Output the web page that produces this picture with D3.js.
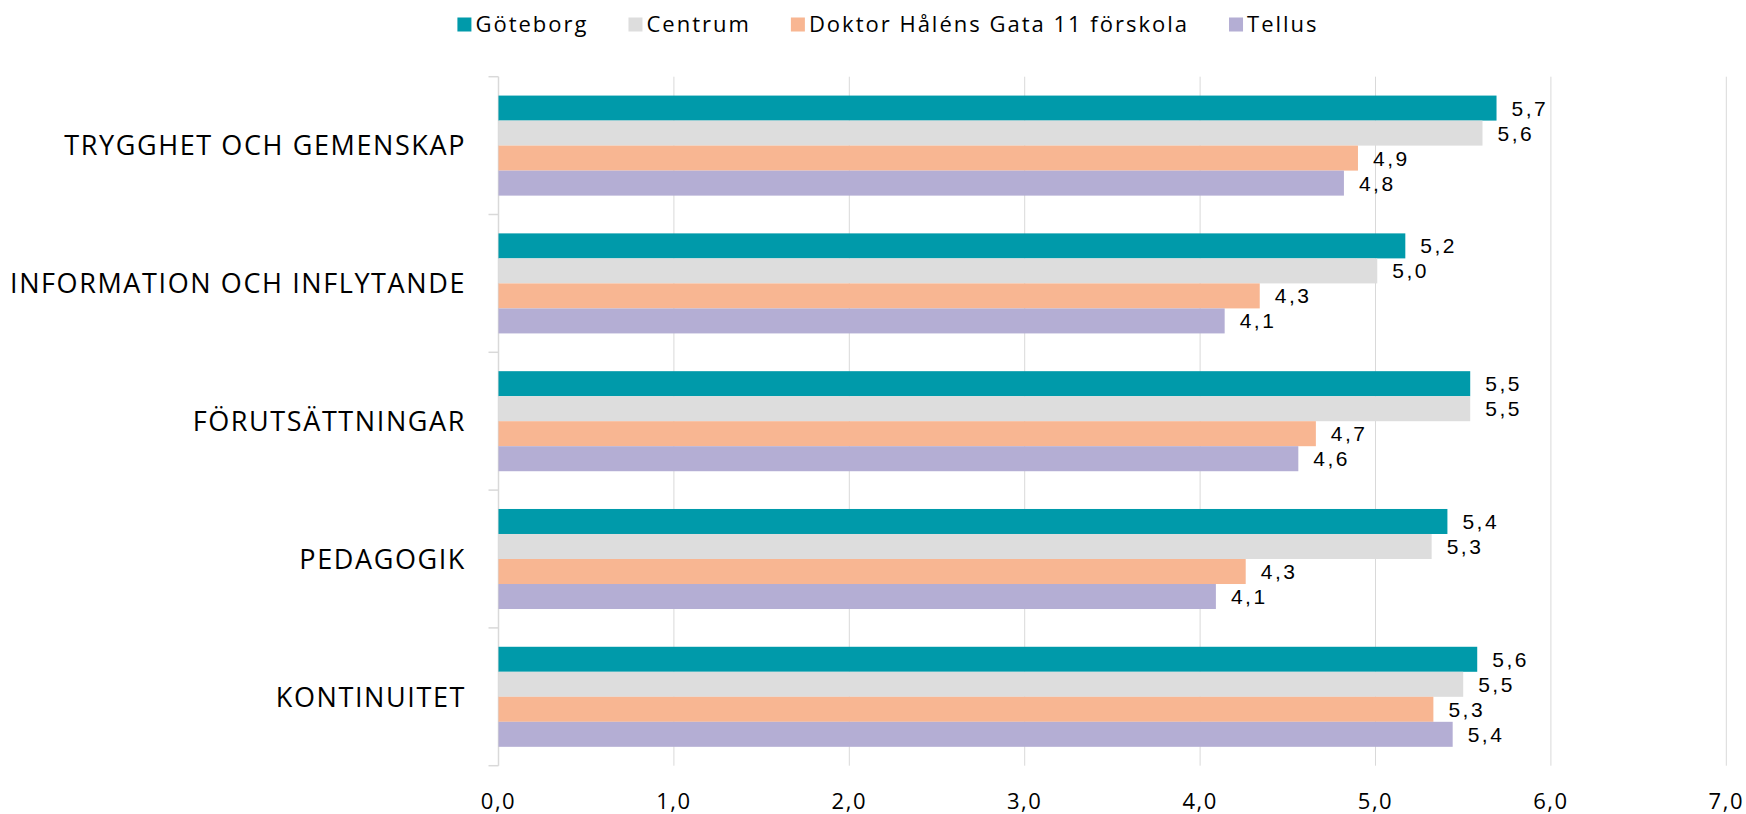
<!DOCTYPE html>
<html>
<head>
<meta charset="utf-8">
<script src="https://cdn.jsdelivr.net/npm/d3@7"></script>
<style>
  html, body { margin: 0; padding: 0; background: #fff; }
  svg { display: block; }
</style>
</head>
<body>
<div id="chart"></div>
<script>
// categories, top to bottom
const categories = ['TRYGGHET OCH GEMENSKAP', 'INFORMATION OCH INFLYTANDE', 'FÖRUTSÄTTNINGAR', 'PEDAGOGIK', 'KONTINUITET']
const seriesNames = ['Göteborg', 'Centrum', 'Doktor Håléns Gata 11 förskola', 'Tellus']
const seriesColors = ['#009aaa', '#dddddd', '#f8b692', '#b4aed4']

// values per series, same order as categories
const goteborg = [5.69, 5.17, 5.54, 5.41, 5.58]
const centrum = [5.61, 5.01, 5.54, 5.32, 5.50]
const doktor = [4.90, 4.34, 4.66, 4.26, 5.33]
const tellus = [4.82, 4.14, 4.56, 4.09, 5.44]

const xTicks = [0, 1, 2, 3, 4, 5, 6, 7]

const width = 1746
const height = 814
const margin = { top: 76.7, right: 20, bottom: 48, left: 498.5 }
const gridColor = '#d9d9d9'

let allSeries = [goteborg, centrum, doktor, tellus]

let svg = d3.select('#chart').append('svg')
  .attr('width', width)
  .attr('height', height)

let x = d3.scaleLinear()
  .domain([0, 7])
  .range([margin.left, 1726.3])

let y = d3.scaleBand()
  .domain(categories)
  .range([margin.top, 765.7])
  .paddingInner(0.274)
  .paddingOuter(0.137)

let ySub = d3.scaleBand()
  .domain(d3.range(seriesNames.length))
  .range([0, y.bandwidth()])

let fmt = v => d3.format('.1f')(v).replace('.', ',')

// grid lines
svg.append('g')
  .selectAll('line')
  .data(xTicks.slice(1))
  .enter().append('line')
  .attr('x1', d => x(d))
  .attr('x2', d => x(d))
  .attr('y1', y.range()[0])
  .attr('y2', y.range()[1])
  .style('stroke', gridColor)
  .style('stroke-width', 1)

// category axis line + outside ticks at band boundaries
let step = y.step()
let boundaries = d3.range(categories.length + 1).map(i => y.range()[0] + i * step)
svg.append('line')
  .attr('x1', x(0)).attr('x2', x(0))
  .attr('y1', y.range()[0]).attr('y2', y.range()[1])
  .style('stroke', gridColor)
  .style('stroke-width', 1.5)
svg.append('g')
  .selectAll('line')
  .data(boundaries)
  .enter().append('line')
  .attr('x1', x(0) - 10)
  .attr('x2', x(0))
  .attr('y1', d => d)
  .attr('y2', d => d)
  .style('stroke', gridColor)
  .style('stroke-width', 1.5)

// category labels
svg.append('g')
  .selectAll('text')
  .data(categories)
  .enter().append('text')
  .attr('x', 466)
  .attr('y', d => y(d) + y.bandwidth() / 2)
  .attr('dy', '0.36em')
  .attr('text-anchor', 'end')
  .style('font-family', '"Open Sans", sans-serif')
  .style('font-size', '27px')
  .style('letter-spacing', '1.6px')
  .style('fill', '#000')
  .text(d => d)

// x tick labels
svg.append('g')
  .selectAll('text')
  .data(xTicks)
  .enter().append('text')
  .attr('x', d => x(d))
  .attr('y', 809)
  .attr('text-anchor', 'middle')
  .style('font-family', '"Open Sans", sans-serif')
  .style('font-size', '22px')
  .style('letter-spacing', '1.5px')
  .style('fill', '#000')
  .text(d => fmt(d))

// bars
let groups = svg.append('g')
  .selectAll('g')
  .data(categories)
  .enter().append('g')
  .attr('transform', d => 'translate(0,' + y(d) + ')')

groups.selectAll('rect')
  .data((d, ci) => allSeries.map((s, si) => ({ si: si, v: s[ci] })))
  .enter().append('rect')
  .attr('x', x(0))
  .attr('y', d => ySub(d.si))
  .attr('width', d => x(d.v) - x(0))
  .attr('height', ySub.bandwidth())
  .style('fill', d => seriesColors[d.si])

groups.selectAll('text')
  .data((d, ci) => allSeries.map((s, si) => ({ si: si, v: s[ci] })))
  .enter().append('text')
  .attr('x', d => x(d.v) + 15)
  .attr('y', d => ySub(d.si) + ySub.bandwidth() / 2)
  .attr('dy', '0.36em')
  .style('font-family', '"Liberation Sans", Arial, sans-serif')
  .style('font-size', '21px')
  .style('letter-spacing', '2.5px')
  .style('fill', '#000')
  .text(d => fmt(d.v))

// legend
let legend = svg.append('g')
let lx = 0
seriesNames.forEach((name, i) => {
  let item = legend.append('g').attr('transform', 'translate(' + lx + ',0)')
  item.append('rect')
    .attr('x', 0).attr('y', -7)
    .attr('width', 14).attr('height', 14)
    .style('fill', seriesColors[i])
  let t = item.append('text')
    .attr('x', 18)
    .attr('y', 0)
    .attr('dy', '0.36em')
    .style('font-family', '"Open Sans", sans-serif')
    .style('font-size', '22px')
    .style('letter-spacing', '2px')
    .style('fill', '#000')
    .text(name)
  lx += 18 + t.node().getComputedTextLength() + 40
})
let legendWidth = lx - 40
legend.attr('transform', 'translate(' + (888 - legendWidth / 2) + ',24.5)')
</script>
</body>
</html>
